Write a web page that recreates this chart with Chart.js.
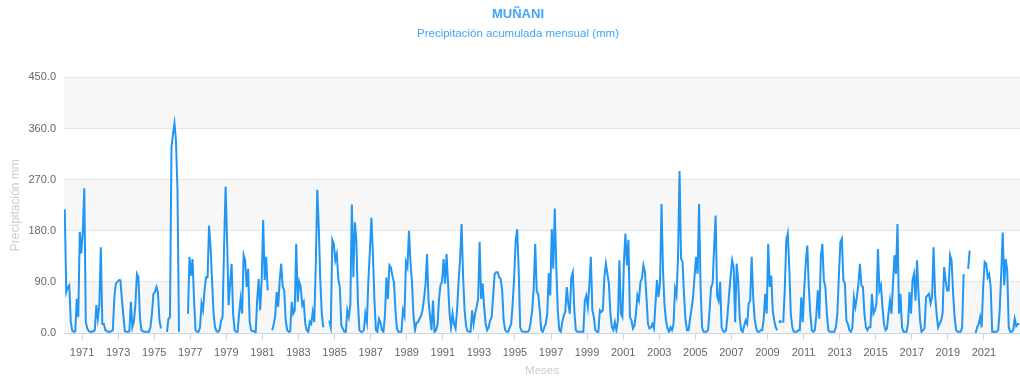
<!DOCTYPE html>
<html lang="es">
<head>
<meta charset="utf-8">
<title>MUÑANI – Precipitación acumulada mensual</title>
<script src="https://cdn.jsdelivr.net/npm/chart.js@4.4.1/dist/chart.umd.min.js"></script>
<style>
  html, body { margin: 0; padding: 0; background: #ffffff; }
  canvas { display: block; }
</style>
</head>
<body>
<canvas id="grafico" width="1020" height="379"></canvas>
<script>
// Precipitación acumulada mensual (mm), de enero a diciembre de cada año.
// null = mes sin registro.
const ANIO_INICIO = 1970;

const pp1970s = [
  218, 72, 80, 84, 20, 4, 2, 3, 60, 28, 178, 140,          // 1970
  178, 255, 19, 8, 3, 2, 2, 3, 5, 49, 25, 49,              // 1971
  151, 16, 16, 5, 3, 2, 2, 3, 5, 63, 87, 90,               // 1972
  93, 93, 60, 30, 3, 2, 2, 3, 55, 10, 20, 50,              // 1973
  104, 98, 28, 5, 3, 2, 2, 2, 2, 10, 34, 69,               // 1974
  72, 81, 72, 22, 8, null, null, null, 2, 25, 28, 327,     // 1975
  350, 369, 339, 250, 2, null, null, null, null, null, 34, 134, // 1976
  101, 130, 60, 5, 2, 2, 10, 52, 40, 75, 98, 98,           // 1977
  189, 151, 93, 34, 10, 3, 2, 5, 22, 28, 151, 258,         // 1978
  163, 49, 87, 122, 34, 5, 2, 2, 34, 60, 34, 137           // 1979
];

const pp1980s = [
  128, 81, 113, 20, 5, 3, 3, 0, 57, 95, 40, 93,            // 1980
  199, 93, 134, 75, null, null, 5, 15, 30, 72, 46, 93,     // 1981
  122, 81, 75, 22, 5, 2, 3, 55, 34, 40, 157, 55,           // 1982
  90, 81, 49, 55, 16, 5, 2, 20, 16, 37, 19, 119,           // 1983
  252, 186, 93, 34, 10, null, null, null, 22, 10, 164, 157, // 1984
  128, 139, 95, 81, 13, 8, 2, 2, 40, 28, 50, 226,          // 1985
  98, 195, 163, 57, 5, 2, 2, 5, 34, 19, 93, 145,           // 1986
  203, 139, 60, 5, 2, 25, 19, 5, 2, 30, 98, 60,            // 1987
  119, 115, 100, 90, 40, 8, 2, 2, 2, 40, 30, 125,          // 1988
  116, 180, 125, 90, 30, 5, 18, 19, 25, 30, 40, 60         // 1989
];

const pp1990s = [
  85, 139, 57, 30, 5, 57, 2, 5, 15, 60, 85, 90,            // 1990
  130, 87, 139, 87, 34, 10, 34, 16, 8, 40, 90, 130,        // 1991
  192, 100, 40, 12, 3, 2, 2, 40, 16, 34, 46, 60,           // 1992
  160, 60, 87, 46, 16, 5, 10, 22, 28, 65, 104, 107,        // 1993
  107, 98, 95, 75, 22, 5, 2, 2, 10, 16, 52, 98,            // 1994
  163, 183, 110, 10, 3, 2, 2, 2, 2, 5, 20, 40,             // 1995
  80, 157, 72, 69, 40, 5, 2, 10, 16, 34, 105, 66,          // 1996
  183, 113, 219, 116, 40, 5, 2, 19, 31, 37, 81, 52,        // 1997
  34, 98, 107, 40, 5, 2, 2, 2, 2, 2, 57, 66,               // 1998
  46, 84, 134, 40, 28, 5, 2, 2, 40, 37, 40, 98             // 1999
];

const pp2000s = [
  122, 104, 87, 34, 10, 5, 19, 5, 22, 128, 34, 28,         // 2000
  125, 175, 119, 164, 28, 22, 8, 13, 34, 66, 57, 90,       // 2001
  96, 119, 107, 63, 16, 8, 10, 16, 8, 52, 93, 63,          // 2002
  87, 227, 110, 49, 22, 8, 2, 10, 5, 16, 78, 66,           // 2003
  134, 285, 131, 125, 66, 22, 5, 5, 25, 43, 63, 100,       // 2004
  134, 104, 227, 80, 10, 2, 2, 2, 5, 40, 81, 87,           // 2005
  151, 207, 66, 57, 90, 10, 3, 2, 5, 34, 69, 100,          // 2006
  128, 116, 19, 122, 93, 28, 5, 2, 13, 22, 16, 52,         // 2007
  57, 134, 63, 25, 8, 2, 2, 5, 5, 25, 69, 34,              // 2008
  157, 81, 101, 40, 22, 10, 5, null, 20, null, 18, 75      // 2009
];

const pp2010s = [
  163, 175, 116, 34, 10, 2, 2, 2, 5, 5, 63, 19,            // 2010
  80, 125, 154, 81, 34, 5, 2, 5, 31, 75, 25, 134,          // 2011
  157, 93, 81, 34, 5, 2, 2, 2, 2, 10, 34, 100,             // 2012
  160, 166, 93, 87, 22, 16, 5, 2, 10, 63, 46, 63,          // 2013
  87, 122, 84, 81, 34, 10, 5, 10, 10, 69, 34, 40,          // 2014
  52, 148, 75, 84, 46, 16, 5, 8, 34, 57, 34, 87,           // 2015
  137, 104, 192, 34, 69, 10, 2, 2, 2, 16, 72, 34,          // 2016
  93, 104, 57, 128, 69, 22, 2, 5, 8, 63, 66, 69,           // 2017
  52, 63, 151, 69, 34, 10, 16, 22, 34, 116, 93, 75,        // 2018
  75, 137, 128, 69, 28, 5, 2, 2, 2, 10, 104, null          // 2019
];

const pp2020s = [
  null, 113, 145, null, null, null, 0, 10, 16, 28, 10, 81, // 2020
  125, 122, 98, 104, 81, 2, 2, 2, 2, 5, 40, 104,           // 2021
  177, 84, 130, 110, 10, 2, 2, 5, 25, 12, 16, 16           // 2022
];

// Años rotulados en el eje horizontal
const aniosEtiqueta = [1971, 1973, 1975, 1977, 1979, 1981, 1983, 1985, 1987, 1989,
  1991, 1993, 1995, 1997, 1999, 2001, 2003, 2005, 2007, 2009,
  2011, 2013, 2015, 2017, 2019, 2021];

const valoresY = [0, 90, 180, 270, 360, 450];

// Serie mensual: cada mes se ubica a mitad de su intervalo en años decimales
const mensual = [].concat(pp1970s, pp1980s, pp1990s, pp2000s, pp2010s, pp2020s);
const puntos = mensual.map((v, i) => ({ x: ANIO_INICIO + (i + 0.5) / 12, y: v }));

const AZUL = '#2196f3';
const FUENTE = '"Liberation Sans", Arial, Helvetica, sans-serif';
Chart.defaults.font.family = FUENTE;

// Franjas alternas de fondo entre líneas de la cuadrícula horizontal
const franjasAlternas = {
  id: 'franjasAlternas',
  beforeDraw(chart) {
    const { ctx, chartArea, scales } = chart;
    const ticks = scales.y.ticks;
    ctx.save();
    ctx.fillStyle = '#f7f7f7';
    for (let i = 0; i + 1 < ticks.length; i += 2) {
      const yA = scales.y.getPixelForValue(ticks[i].value);
      const yB = scales.y.getPixelForValue(ticks[i + 1].value);
      ctx.fillRect(chartArea.left, yB, chartArea.right - chartArea.left, yA - yB);
    }
    ctx.restore();
  }
};

new Chart(document.getElementById('grafico'), {
  type: 'line',
  data: {
    datasets: [{
      label: 'Precipitación',
      data: puntos,
      borderColor: AZUL,
      backgroundColor: AZUL,
      borderWidth: 2,
      tension: 0,
      spanGaps: false,
      pointBorderWidth: 0,
      pointBackgroundColor: AZUL,
      // Sólo se marca un mes con dato aislado entre meses sin registro
      pointRadius: (ctx) => {
        const d = ctx.dataset.data, i = ctx.dataIndex;
        if (!d[i] || d[i].y === null) return 0;
        const antes = i === 0 || d[i - 1].y === null;
        const despues = i === d.length - 1 || d[i + 1].y === null;
        return antes && despues ? 1.6 : 0;
      }
    }]
  },
  options: {
    responsive: false,
    animation: false,
    layout: { padding: { top: 7, right: 0, bottom: 0, left: 16 } },
    plugins: {
      legend: { display: false },
      tooltip: { enabled: false },
      title: {
        display: true,
        text: 'MUÑANI',
        color: '#42a5f5',
        font: { family: FUENTE, size: 13, weight: 'bold' },
        padding: { top: 0, bottom: 4 }
      },
      subtitle: {
        display: true,
        text: 'Precipitación acumulada mensual (mm)',
        color: '#42a5f5',
        font: { family: FUENTE, size: 11.5 },
        padding: { top: 0, bottom: 37 }
      }
    },
    scales: {
      x: {
        type: 'linear',
        min: ANIO_INICIO,
        max: 2023,
        afterBuildTicks: (s) => { s.ticks = aniosEtiqueta.map((v) => ({ value: v })); },
        afterFit: (s) => { s.height = 46; },
        ticks: {
          autoSkip: false,
          maxRotation: 0,
          color: '#666666',
          font: { size: 11 },
          padding: 6,
          callback: (v) => String(v)
        },
        grid: { drawOnChartArea: false, drawTicks: true, tickLength: 7, color: '#ccd6eb' },
        border: { display: true, color: '#ccd6eb' },
        title: {
          display: true,
          text: 'Meses',
          color: '#cccccc',
          font: { size: 11.5 },
          padding: { top: 2, bottom: 1 }
        }
      },
      y: {
        min: 0,
        max: 450,
        afterBuildTicks: (s) => { s.ticks = valoresY.map((v) => ({ value: v })); },
        afterFit: (s) => { s.width = 48; },
        ticks: {
          color: '#666666',
          font: { size: 11 },
          padding: 8,
          callback: (v) => Number(v).toFixed(1)
        },
        grid: { color: '#e6e6e6', drawTicks: false },
        border: { display: false },
        title: {
          display: true,
          text: 'Precipitación mm',
          color: '#cccccc',
          font: { size: 12 },
          padding: { top: -8, bottom: 4 }
        }
      }
    }
  },
  plugins: [franjasAlternas]
});
</script>
</body>
</html>
